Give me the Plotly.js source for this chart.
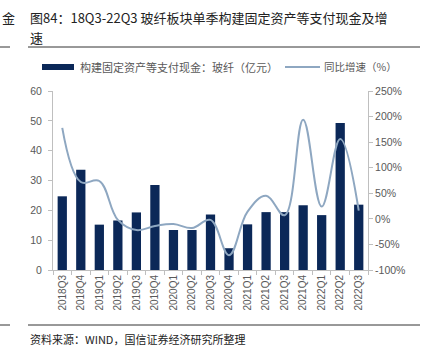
<!DOCTYPE html>
<html><head><meta charset="utf-8">
<script src="https://cdn.plot.ly/plotly-3.0.1.min.js"></script>
<style>html,body{margin:0;padding:0;background:#fff;}#c{width:422px;height:362px;}</style>
</head><body><div id="c"></div>
<script>
var categories = ['2018Q3','2018Q4','2019Q1','2019Q2','2019Q3','2019Q4','2020Q1','2020Q2','2020Q3','2020Q4','2021Q1','2021Q2','2021Q3','2021Q4','2022Q1','2022Q2','2022Q3'];
var cashValues = [24.7, 33.6, 15.2, 16.6, 19.3, 28.5, 13.4, 13.4, 18.6, 7.3, 15.3, 19.4, 19.4, 21.7, 18.4, 49.3, 21.9];
var growthValues = [178, 72, 74, -2, -22, -14, -10, -18, -2, -71, 14, 45, 7, 194, 24, 156, 16];
var leftTicks = [0, 10, 20, 30, 40, 50, 60];
var rightTicks = [-100, -50, 0, 50, 100, 150, 200, 250];
var rightTickLabels = ['-100%', '-50%', '0%', '50%', '100%', '150%', '200%', '250%'];

var L = 53, R = 368, T = 91, B = 270, W = 422, H = 362;
function px(x){ return (x - L) / (R - L); }
function py(y){ return (B - y) / (B - T); }

var grey = '#595959';
var tickFont = {family: 'Arial, Liberation Sans, sans-serif', size: 10.5, color: grey};

var data = [
  {type: 'bar', x: categories, y: cashValues, name: '构建固定资产等支付现金：玻纤（亿元）',
   marker: {color: '#0b2858'}, width: 0.5, yaxis: 'y', showlegend: false},
  {type: 'scatter', mode: 'lines', x: categories, y: growthValues, name: '同比增速（%）',
   line: {color: '#8ea7c1', width: 2, shape: 'spline', smoothing: 1.1}, yaxis: 'y2', showlegend: false}
];

var layout = {
  width: W, height: H,
  margin: {l: L, r: W - R, t: T, b: H - B, pad: 0},
  paper_bgcolor: '#fff', plot_bgcolor: '#fff',
  showlegend: false,
  bargap: 0.5,
  xaxis: {type: 'category', tickangle: -90, tickfont: {family: 'Arial, Liberation Sans, sans-serif', size: 10, color: grey},
    showline: true, linecolor: '#bfbfbf', linewidth: 1, ticks: 'outside', ticklen: 4, tickcolor: '#bfbfbf',
    tickson: 'boundaries', showgrid: false, zeroline: false, fixedrange: true},
  yaxis: {range: [0, 60], tickvals: leftTicks, tickfont: tickFont, showline: true, linecolor: '#bfbfbf', linewidth: 1,
    ticks: 'outside', ticklen: 4, tickcolor: '#bfbfbf', showgrid: false, zeroline: false, ticklabelstandoff: 4},
  yaxis2: {range: [-100, 250], tickvals: rightTicks, ticktext: rightTickLabels, overlaying: 'y', side: 'right',
    tickfont: tickFont, showline: true, linecolor: '#bfbfbf', linewidth: 1, ticks: 'outside', ticklen: 4, tickcolor: '#bfbfbf',
    showgrid: false, zeroline: false},
  shapes: [
    {type: 'line', xref: 'paper', yref: 'paper', x0: px(28), x1: px(420), y0: py(47), y1: py(47), line: {color: '#333', width: 1}},
    {type: 'line', xref: 'paper', yref: 'paper', x0: px(0), x1: px(10), y0: py(47), y1: py(47), line: {color: '#333', width: 1}},
    {type: 'line', xref: 'paper', yref: 'paper', x0: px(28), x1: px(420), y0: py(325), y1: py(325), line: {color: '#333', width: 1}},
    {type: 'line', xref: 'paper', yref: 'paper', x0: px(0), x1: px(10), y0: py(325), y1: py(325), line: {color: '#333', width: 1}},
    {type: 'rect', xref: 'paper', yref: 'paper', x0: px(42), x1: px(74), y0: py(70), y1: py(64), line: {width: 0}, fillcolor: '#0b2858'},
    {type: 'line', xref: 'paper', yref: 'paper', x0: px(285), x1: px(320), y0: py(67), y1: py(67), line: {color: '#8ea7c1', width: 2}}
  ],
  annotations: [
    {xref: 'paper', yref: 'paper', x: px(28), y: py(17), xanchor: 'left', yanchor: 'middle', showarrow: false,
     text: '图84：18Q3-22Q3 玻纤板块单季构建固定资产等支付现金及增', font: {family: 'Noto Sans CJK SC', size: 13, color: '#222'}},
    {xref: 'paper', yref: 'paper', x: px(28), y: py(37), xanchor: 'left', yanchor: 'middle', showarrow: false,
     text: '速', font: {family: 'Noto Sans CJK SC', size: 13, color: '#222'}},
    {xref: 'paper', yref: 'paper', x: px(0), y: py(17), xanchor: 'left', yanchor: 'middle', showarrow: false,
     text: '金', font: {family: 'Noto Sans CJK SC', size: 13, color: '#222'}},
    {xref: 'paper', yref: 'paper', x: px(28), y: py(339), xanchor: 'left', yanchor: 'middle', showarrow: false,
     text: '资料来源：WIND，国信证券经济研究所整理', font: {family: 'Noto Sans CJK SC', size: 11, color: '#222'}},
    {xref: 'paper', yref: 'paper', x: px(78), y: py(67), xanchor: 'left', yanchor: 'middle', showarrow: false,
     text: '构建固定资产等支付现金：玻纤（亿元）', font: {family: 'Noto Sans CJK SC', size: 11, color: grey}},
    {xref: 'paper', yref: 'paper', x: px(322), y: py(67), xanchor: 'left', yanchor: 'middle', showarrow: false,
     text: '同比增速（%）', font: {family: 'Noto Sans CJK SC', size: 10.5, color: grey}}
  ]
};

Plotly.newPlot('c', data, layout, {displayModeBar: false, staticPlot: true});
</script></body></html>
